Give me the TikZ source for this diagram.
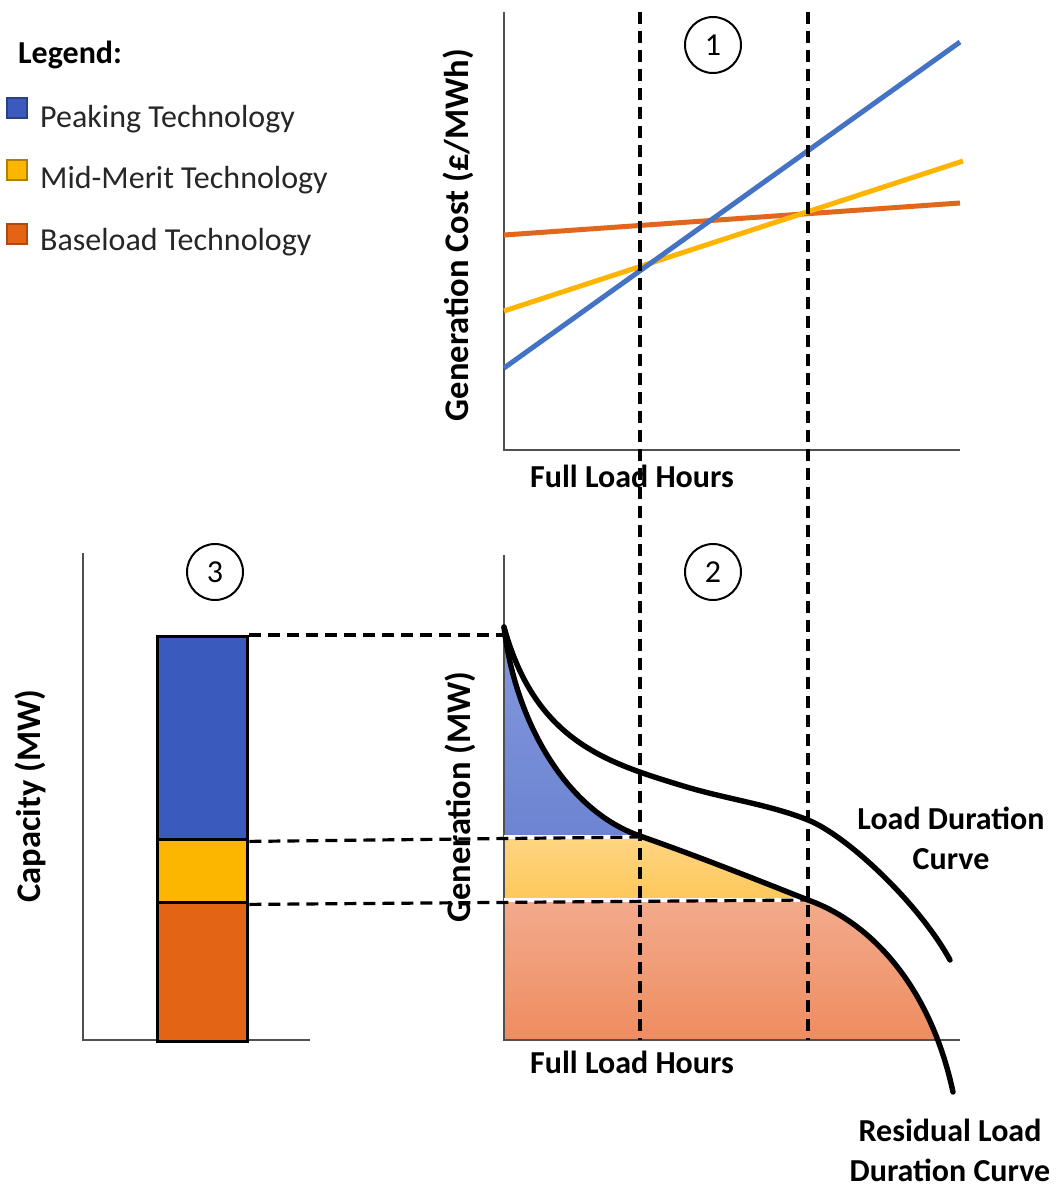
\documentclass[tikz,border=0pt]{standalone}
\usepackage{fontspec}
\setmainfont{Carlito}
\usetikzlibrary{calc}
\definecolor{pkblue}{HTML}{3A5BBD}
\definecolor{mmyellow}{HTML}{FDB600}
\definecolor{blorange}{HTML}{E36414}
\definecolor{lnblue}{HTML}{4472C4}
\definecolor{lnyellow}{HTML}{FFB400}
\definecolor{lnorange}{HTML}{E2671D}
\definecolor{axisgray}{HTML}{505050}
\definecolor{fbtop}{HTML}{8498DB}
\definecolor{fbbot}{HTML}{6C84D2}
\definecolor{fytop}{HTML}{FED582}
\definecolor{fybot}{HTML}{FDC85A}
\definecolor{fotop}{HTML}{F2AB8C}
\definecolor{fobot}{HTML}{EF8C60}
\definecolor{legtxt}{HTML}{262626}
\tikzset{
  axisline/.style={draw=axisgray,line width=2.2pt},
  guide/.style={draw=black,line width=3.2pt,dash pattern=on 12pt off 7pt},
  costline/.style={line width=5pt},
  curveline/.style={draw=black,line width=5.4pt,line cap=round},
  numcircle/.style={draw=black,line width=2pt,circle,minimum size=56pt,inner sep=0pt,font=\fontsize{32}{36}\selectfont},
  lbl/.style={font=\fontsize{32}{40}\selectfont\bfseries},
  rlbl/.style={font=\fontsize{34.5}{40}\selectfont\bfseries,rotate=90},
  legtext/.style={font=\fontsize{32}{36}\selectfont,text=legtxt,anchor=base west,inner sep=0pt},
  legbox/.style={line width=1.4pt,minimum size=20pt,inner sep=0pt},
  barpart/.style={draw=black,line width=3.4pt}
}
\def\residualpath{(504,627) .. controls (515,720) and (565,810) .. (640,836) .. controls (700,857) and (760,881) .. (808,900) .. controls (870,922) and (930,985) .. (953,1092)}
\begin{document}
\begin{tikzpicture}[x=1pt,y=-1pt]
\useasboundingbox (0,0) rectangle (1059,1187);
% ---------- legend
\node[lbl,anchor=base west,inner sep=0pt] (legend) at (18,63) {Legend:};
\node[legbox,fill=pkblue,draw=pkblue!70!black] (sqb) at (17,108) {};
\node[legbox,fill=mmyellow,draw=mmyellow!70!black] (sqy) at (17,170) {};
\node[legbox,fill=blorange,draw=blorange!75!black] (sqo) at (17,234) {};
\node[legtext] (tb) at (40,127) {Peaking Technology};
\node[legtext] (ty) at (40,188) {Mid-Merit Technology};
\node[legtext] (to) at (40,250) {Baseload Technology};
% ---------- chart 1
\coordinate (c1top) at (504,12);
\coordinate (c1o) at (504,450);
\coordinate (c1r) at (960,450);
\draw[axisline] (c1top) -- (c1o) -- (c1r);
\draw[costline,lnorange] (504,235) -- (960,203);
\draw[costline,lnyellow] (504,311) -- (963,161);
\draw[costline,lnblue] (504,368) -- (960,42);
\node[numcircle] (n1) at (713,45) {1};
\node[rlbl] (ycost) at (458,235) {Generation Cost (£/MWh)};
\node[lbl] (xh1) at (632,476) {Full Load Hours};
% ---------- chart 2 fills
\begin{scope}
  \clip (504,600) rectangle (640,836);
  \clip \residualpath -- (504,1100) -- cycle;
  \shade[top color=fbtop,bottom color=fbbot] (504,627) rectangle (700,836);
\end{scope}
\begin{scope}
  \clip (504,837) rectangle (900,900);
  \clip \residualpath -- (504,1100) -- cycle;
  \shade[top color=fytop,bottom color=fybot] (504,837) rectangle (900,900);
\end{scope}
\begin{scope}
  \clip (504,900) rectangle (1000,1040);
  \clip \residualpath -- (504,1100) -- cycle;
  \shade[top color=fotop,bottom color=fobot] (504,900) rectangle (1000,1040);
\end{scope}
% ---------- chart 2 axes
\coordinate (c2top) at (504,555);
\coordinate (c2o) at (504,1040);
\coordinate (c2r) at (960,1040);
\draw[axisline] (c2top) -- (c2o) -- (c2r);
% ---------- chart 3
\coordinate (c3top) at (83,553);
\coordinate (c3o) at (83,1040);
\coordinate (c3r) at (310,1040);
\draw[axisline] (c3top) -- (c3o) -- (c3r);
\node[barpart,fill=pkblue,minimum width=90pt,minimum height=203pt,inner sep=0pt,anchor=north west] (barb) at (156,635) {};
\node[barpart,fill=mmyellow,minimum width=90pt,minimum height=63pt,inner sep=0pt,anchor=north west] (bary) at (156,838) {};
\node[barpart,fill=blorange,minimum width=90pt,minimum height=139pt,inner sep=0pt,anchor=north west] (baro) at (156,901) {};
\node[numcircle] (n3) at (215,572) {3};
\node[numcircle] (n2) at (713,572) {2};
% ---------- guides
\coordinate (g1t) at (640,12);
\coordinate (g1b) at (640,1040);
\coordinate (g2t) at (808,12);
\coordinate (g2b) at (808,1040);
\draw[guide] (g1t) -- (g1b);
\draw[guide] (g2t) -- (g2b);
\coordinate (hpk) at (504,635);
\coordinate (hmm) at (640,837);
\coordinate (hbl) at (808,900);
\draw[white,line width=4.2pt] (504,837) -- (hmm);
\draw[white,line width=4.2pt] (504,900) -- (hbl);
\draw[guide] (barb.north east) -- (hpk);
\draw[guide] (barb.south east) -- (hmm);
\draw[guide] (bary.south east) -- (hbl);
% ---------- curves
\draw[curveline] (504,627) .. controls (535,740) and (605,762) .. (680,785) .. controls (725,799) and (768,804) .. (808,820) .. controls (848,836) and (920,905) .. (950,960);
\draw[curveline] \residualpath;
% ---------- labels
\node[rlbl] (ygen) at (460,797) {Generation (MW)};
\node[rlbl] (ycap) at (30,796) {Capacity (MW)};
\node[lbl] (xh2) at (632,1062) {Full Load Hours};
\node[lbl,align=center] (ldc) at (951,838) {Load Duration\\Curve};
\node[lbl,align=center] (rldc) at (950,1150) {Residual Load\\Duration Curve};
\end{tikzpicture}
\end{document}
